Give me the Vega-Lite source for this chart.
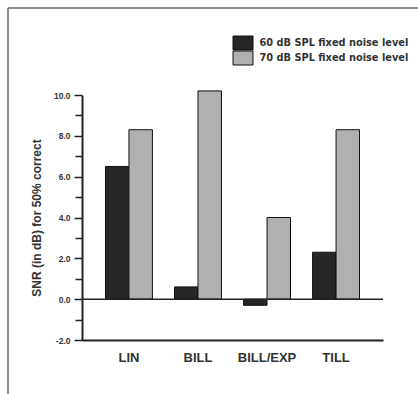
{
  "$schema": "https://vega.github.io/schema/vega-lite/v6.json",
  "width": 410,
  "height": 386,
  "autosize": {"type": "none"},
  "padding": {"left": 8, "top": 8, "right": 0, "bottom": 0},
  "background": "white",
  "config": {
    "view": {"stroke": "#6a6a6a", "strokeWidth": 1.5, "strokeDash": [410, 796, 386, 0]},
    "font": "Liberation Sans"
  },
  "data": {
    "values": [
      {"scheme": "LIN", "noise": "60 dB SPL fixed noise level", "snr": 6.5},
      {"scheme": "LIN", "noise": "70 dB SPL fixed noise level", "snr": 8.3},
      {"scheme": "BILL", "noise": "60 dB SPL fixed noise level", "snr": 0.6},
      {"scheme": "BILL", "noise": "70 dB SPL fixed noise level", "snr": 10.2},
      {"scheme": "BILL/EXP", "noise": "60 dB SPL fixed noise level", "snr": -0.3},
      {"scheme": "BILL/EXP", "noise": "70 dB SPL fixed noise level", "snr": 4.0},
      {"scheme": "TILL", "noise": "60 dB SPL fixed noise level", "snr": 2.3},
      {"scheme": "TILL", "noise": "70 dB SPL fixed noise level", "snr": 8.3}
    ]
  },
  "layer": [
    {
      "mark": {"type": "bar", "stroke": "#111111", "strokeWidth": 1},
      "encoding": {
        "x": {
          "field": "scheme",
          "type": "nominal",
          "sort": ["LIN", "BILL", "BILL/EXP", "TILL"],
          "scale": {"range": [74, 375], "paddingInner": 0.32, "paddingOuter": 0.34},
          "axis": {
            "title": null,
            "orient": "bottom",
            "offset": -54,
            "ticks": false,
            "labelAngle": 0,
            "labelPadding": 11,
            "labelFont": "Liberation Sans",
            "labelFontSize": 13,
            "labelFontWeight": "bold",
            "labelColor": "#333333",
            "domainColor": "#222222",
            "domainWidth": 2
          }
        },
        "xOffset": {
          "field": "noise",
          "type": "nominal",
          "sort": ["60 dB SPL fixed noise level", "70 dB SPL fixed noise level"]
        },
        "y": {
          "field": "snr",
          "type": "quantitative",
          "scale": {"domain": [-2, 10], "range": [332, 87], "nice": false, "zero": true},
          "axis": {
            "orient": "left",
            "offset": -74,
            "values": [-2, 0, 2, 4, 6, 8, 10],
            "format": ".1f",
            "labelExpr": "replace(datum.label, '\u2212', '-')",
            "grid": false,
            "tickSize": 8,
            "tickWidth": 1.5,
            "tickColor": "#222222",
            "domainColor": "#222222",
            "domainWidth": 2,
            "labelFontSize": 8.5,
            "labelFontWeight": "bold",
            "labelColor": "#333333",
            "labelPadding": 4,
            "title": "SNR (in dB) for 50% correct",
            "titleFontSize": 12,
            "titleFontWeight": "bold",
            "titleColor": "#333333",
            "titlePadding": 10
          }
        },
        "fill": {
          "field": "noise",
          "type": "nominal",
          "sort": ["60 dB SPL fixed noise level", "70 dB SPL fixed noise level"],
          "scale": {"range": ["#262626", "#b0b0b0"]},
          "legend": {
            "orient": "none",
            "legendX": 229.5,
            "legendY": 29.5,
            "title": null,
            "padding": 0,
            "symbolType": "M-2,-1.4H2V1.4H-2Z",
            "symbolSize": 100,
            "symbolStrokeColor": "#111111",
            "symbolStrokeWidth": 1,
            "symbolOpacity": 1,
            "labelFont": "DejaVu Sans",
            "labelFontSize": 9.8,
            "labelFontWeight": "bold",
            "labelColor": "#333333",
            "labelOffset": 11,
            "rowPadding": -6
          }
        }
      }
    },
    {
      "data": {"values": [{"level": 0}]},
      "mark": {"type": "rule", "stroke": "#222222", "strokeWidth": 1.5},
      "encoding": {
        "y": {
          "field": "level",
          "type": "quantitative",
          "axis": {
            "orient": "left",
            "offset": -74,
            "values": [-1, 1, 3, 5, 7, 9],
            "labels": false,
            "domain": false,
            "grid": false,
            "tickSize": 7,
            "tickWidth": 1.5,
            "tickColor": "#222222",
            "title": null
          }
        },
        "x": {
          "datum": 0,
          "type": "quantitative",
          "scale": {"domain": [0, 1], "range": [74, 375]},
          "axis": null
        },
        "x2": {"datum": 1}
      }
    }
  ],
  "resolve": {"scale": {"x": "independent"}, "axis": {"y": "independent"}}
}
